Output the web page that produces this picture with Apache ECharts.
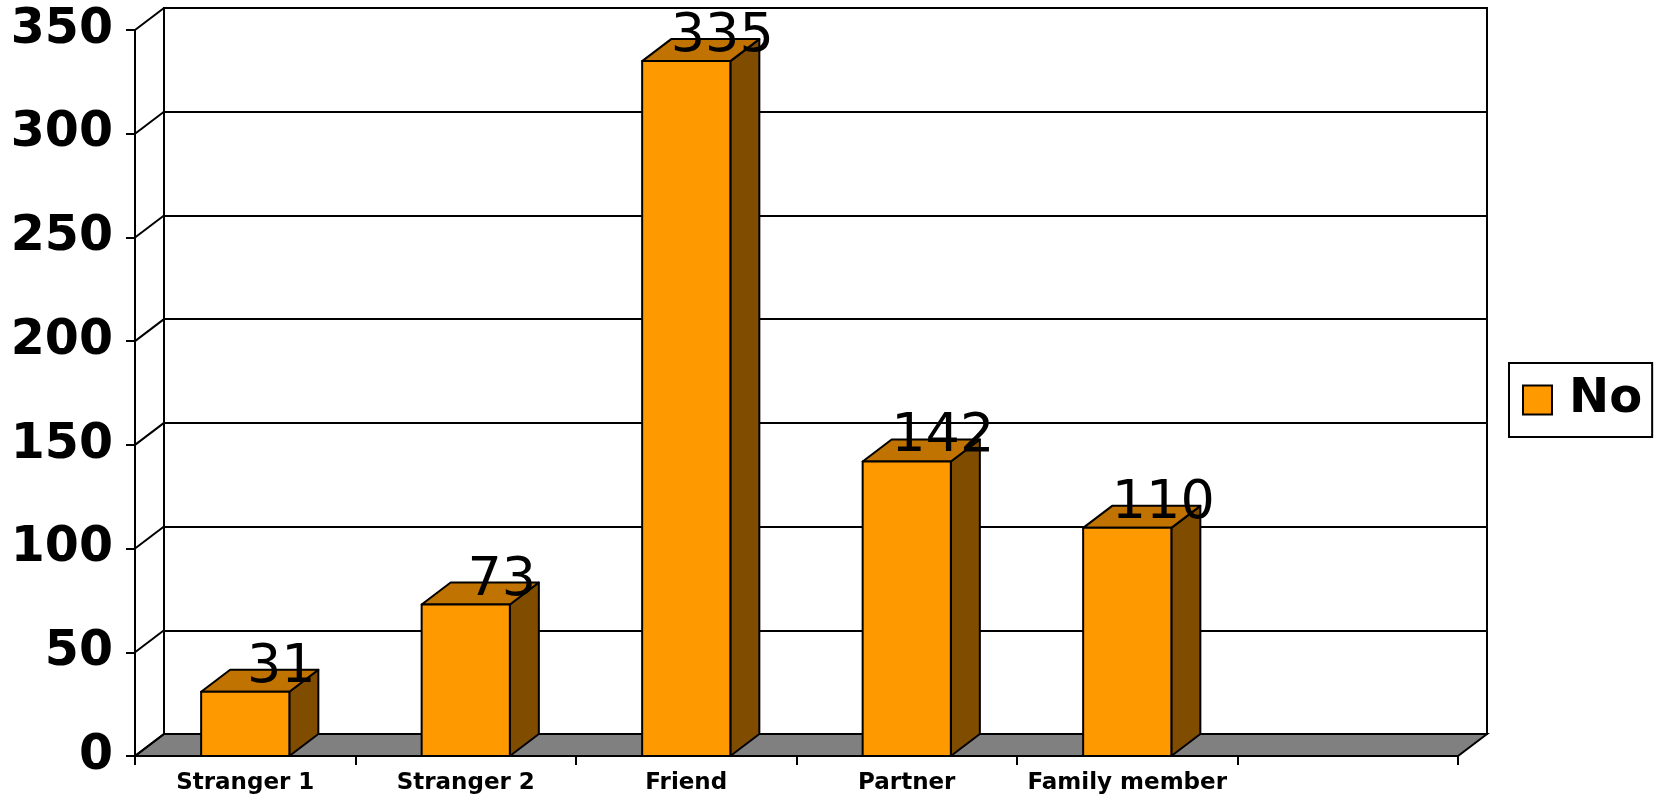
<!DOCTYPE html>
<html>
<head>
<meta charset="utf-8">
<script src="https://cdn.jsdelivr.net/npm/echarts@6/dist/echarts.min.js"></script>
<style>
  html, body { margin: 0; padding: 0; background: #fff; }
  #chart { width: 1657px; height: 800px; }
</style>
</head>
<body>
<div id="chart"></div>
<script>
// data
const categories = ['Stranger 1', 'Stranger 2', 'Friend', 'Partner', 'Family member', ''];
const noValues = [31, 73, 335, 142, 110];
const yTicks = [0, 50, 100, 150, 200, 250, 300, 350];
const seriesName = 'No';

// 3d depth offset of the walls and bars
const DX = 29;
const DY = 22;
const FONT = 'DejaVu Sans, Verdana, sans-serif';

const chart = echarts.init(document.getElementById('chart'));

const renderBar = (params, api) => {
  const top = api.coord([api.value(0), api.value(1)]);
  const base = api.coord([api.value(0), 0]);
  const w = api.size([1, 0])[0] * 0.4;
  const l = top[0] - w / 2;
  const r = top[0] + w / 2;
  const t = top[1];
  const b = base[1];
  const line = { stroke: '#000', lineWidth: 2, lineJoin: 'round' };
  return {
    type: 'group',
    children: [
      {
        type: 'polygon',
        shape: { points: [[r, t], [r + DX, t - DY], [r + DX, b - DY], [r, b]] },
        style: Object.assign({ fill: '#7F4C00' }, line)
      },
      {
        type: 'polygon',
        shape: { points: [[l, t], [l + DX, t - DY], [r + DX, t - DY], [r, t]] },
        style: Object.assign({ fill: '#C07300' }, line)
      },
      {
        type: 'rect',
        shape: { x: l, y: t, width: w, height: b - t },
        style: Object.assign({ fill: '#FF9900' }, line)
      },
      {
        type: 'text',
        z2: 10,
        x: top[0] + 36,
        y: t - DY - 2,
        style: {
          text: String(api.value(1)),
          fill: '#000',
          font: '54px ' + FONT,
          align: 'center',
          verticalAlign: 'middle'
        }
      }
    ]
  };
};

const renderFloor = (params, api) => {
  const cs = params.coordSys;
  const y = cs.y + cs.height;
  return {
    type: 'polygon',
    shape: {
      points: [[cs.x, y], [cs.x + cs.width, y], [cs.x + cs.width + DX, y - DY], [cs.x + DX, y - DY]]
    },
    style: { fill: '#808080', stroke: '#000', lineWidth: 2 }
  };
};

const renderSideWall = (params, api) => {
  const cs = params.coordSys;
  const p = api.coord([0, api.value(0)]);
  return {
    type: 'line',
    shape: { x1: cs.x, y1: p[1], x2: cs.x + DX, y2: p[1] - DY },
    style: { stroke: '#000', lineWidth: 2 }
  };
};

const option = {
  backgroundColor: '#fff',
  animation: false,
  textStyle: { fontFamily: FONT },
  legend: {
    data: [seriesName],
    left: 1509,
    top: 363,
    orient: 'vertical',
    icon: 'rect',
    itemWidth: 29,
    itemHeight: 29,
    padding: [13, 10, 13, 13],
    borderColor: '#000',
    borderWidth: 2,
    textStyle: {
      fontSize: 48,
      fontWeight: 'bold',
      color: '#000',
      lineHeight: 40,
      padding: [0, 0, 0, 12]
    }
  },
  grid: [
    // front plane
    { left: 135, top: 30, width: 1323, height: 726 },
    // back wall
    {
      left: 135 + DX, top: 30 - DY, width: 1323, height: 726,
      show: true, borderColor: '#000', borderWidth: 2, backgroundColor: 'transparent'
    }
  ],
  xAxis: [
    {
      gridIndex: 0,
      type: 'category',
      data: categories,
      axisLine: { show: true, lineStyle: { color: '#000', width: 2 } },
      axisTick: { show: true, length: 9, lineStyle: { color: '#000', width: 2 } },
      axisLabel: { color: '#000', fontSize: 23, fontWeight: 'bold', margin: 16, interval: 0 }
    },
    { gridIndex: 1, type: 'category', data: categories, show: false }
  ],
  yAxis: [
    {
      gridIndex: 0,
      type: 'value',
      min: 0,
      max: 350,
      interval: 50,
      axisLine: { show: true, lineStyle: { color: '#000', width: 2 } },
      axisTick: { show: true, length: 9, lineStyle: { color: '#000', width: 2 } },
      axisLabel: { color: '#000', fontSize: 49, fontWeight: 'bold', margin: 22 },
      splitLine: { show: false }
    },
    {
      gridIndex: 1,
      type: 'value',
      min: 0,
      max: 350,
      interval: 50,
      axisLine: { show: false },
      axisTick: { show: false },
      axisLabel: { show: false },
      splitLine: { show: true, lineStyle: { color: '#000', width: 2 } }
    }
  ],
  series: [
    {
      type: 'custom',
      xAxisIndex: 0,
      yAxisIndex: 0,
      z: 1,
      silent: true,
      renderItem: renderFloor,
      data: [[0]]
    },
    {
      type: 'custom',
      xAxisIndex: 0,
      yAxisIndex: 0,
      z: 1,
      silent: true,
      renderItem: renderSideWall,
      data: yTicks.map(v => [v])
    },
    {
      name: seriesName,
      type: 'custom',
      xAxisIndex: 0,
      yAxisIndex: 0,
      z: 3,
      itemStyle: { color: '#FF9900', borderColor: '#000', borderWidth: 2 },
      renderItem: renderBar,
      encode: { x: 0, y: 1 },
      data: noValues.map((v, i) => [i, v])
    }
  ]
};

chart.setOption(option);
</script>
</body>
</html>
